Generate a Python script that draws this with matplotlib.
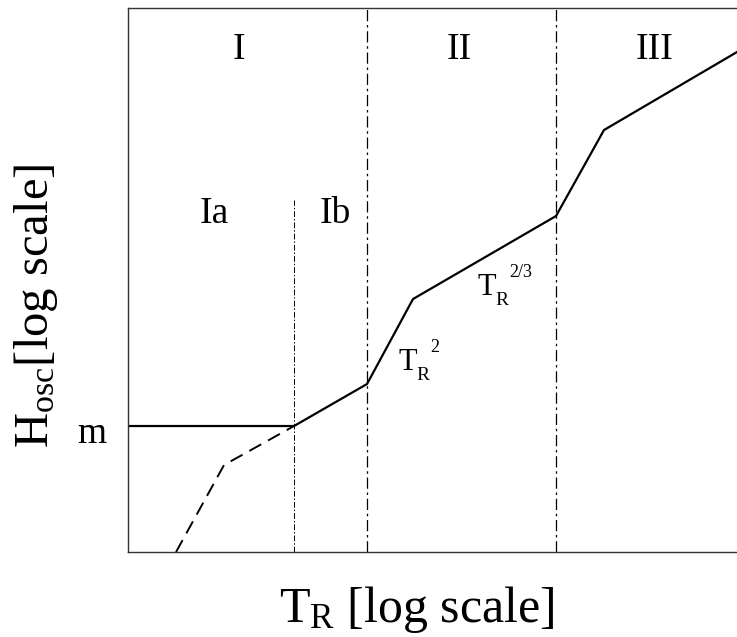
import matplotlib
matplotlib.use("Agg")
import matplotlib.pyplot as plt

plt.rcParams["font.family"] = ["Liberation Serif", "DejaVu Serif"]
plt.rcParams["mathtext.fontset"] = "custom"
plt.rcParams["mathtext.rm"] = "Liberation Serif"
plt.rcParams["mathtext.it"] = "Liberation Serif:italic"

# schematic curve, both axes in arbitrary log units
solid_x = [0.0, 1.66, 2.39, 2.85, 4.28, 4.76, 6.09]
solid_y = [1.26, 1.26, 1.68, 2.53, 3.36, 4.22, 5.00]
dashed_x = [0.48, 0.96, 1.66]
dashed_y = [0.0, 0.87, 1.26]

region_bounds = [2.39, 4.28]
sub_bound_x = 1.66
sub_bound_top = 3.52

region_labels = ["I", "II", "III"]
region_label_x = [1.11, 3.31, 5.27]
sub_labels = ["Ia", "Ib"]
sub_label_x = [0.86, 2.07]

# slope labels: exponent, anchor (left/baseline of the "T")
slope_exps = ["2", "2/3"]
slope_x = [2.70, 3.49]
slope_y = [1.82, 2.57]

XMAX, YMAX = 6.09, 5.44

fig = plt.figure(figsize=(7.37, 6.37), dpi=100)
ax = fig.add_axes([0.1737, 0.1334, 0.8263, 0.854])

ax.plot(solid_x, solid_y, color="black", lw=1.6, solid_joinstyle="miter")
ax.plot(dashed_x, dashed_y, color="black", lw=1.4, dashes=(7, 4))

for xb in region_bounds:
    ax.plot([xb, xb], [0, YMAX], color="black", lw=0.9, dashes=(9, 3, 2, 3))
ax.plot([sub_bound_x, sub_bound_x], [0, sub_bound_top], color="black", lw=0.7,
        dashes=(6, 2, 1.5, 2))

for lab, xl in zip(region_labels, region_label_x):
    ax.text(xl, 5.02, lab, fontsize=27, ha="center", va="center")
for lab, xl in zip(sub_labels, sub_label_x):
    ax.text(xl, 3.38, lab, fontsize=27, ha="center", va="center")

ax.text(-0.36, 1.18, "m", fontsize=27, ha="center", va="center")

for ex, sx, sy in zip(slope_exps, slope_x, slope_y):
    ax.text(sx, sy, "T", fontsize=22, ha="left", va="baseline")
    ax.annotate("R", (sx, sy), xytext=(18, -10), textcoords="offset pixels",
                fontsize=14, ha="left", va="baseline")
    ax.annotate(ex, (sx, sy), xytext=(32, 18), textcoords="offset pixels",
                fontsize=13, ha="left", va="baseline")

ax.set_xlim(0, XMAX)
ax.set_ylim(0, YMAX)
ax.set_xticks([])
ax.set_yticks([])
ax.spines["right"].set_visible(False)
for s in ["left", "top", "bottom"]:
    ax.spines[s].set_color("#333333")
    ax.spines[s].set_linewidth(1.0)

ax.set_xlabel(r"$\mathrm{T}_\mathrm{R}$ [log scale]", fontsize=36, va="baseline")
ax.xaxis.set_label_coords(0.475, -0.128)
ax.set_ylabel(r"$\mathrm{H}_\mathrm{osc}$[log scale]", fontsize=35, va="center")
ax.yaxis.set_label_coords(-0.151, 0.452)

fig.savefig("out.png", dpi=100)
